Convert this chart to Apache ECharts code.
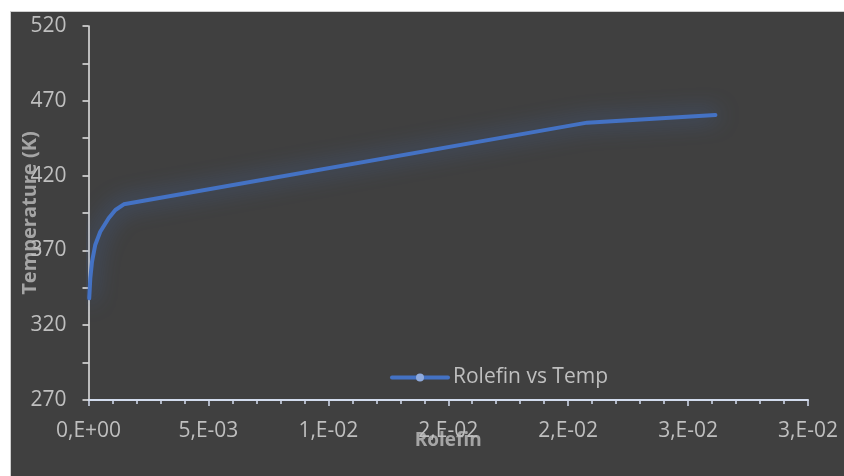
<!DOCTYPE html>
<html>
<head>
<meta charset="utf-8">
<script src="https://cdn.jsdelivr.net/npm/echarts@6/dist/echarts.min.js"></script>
<style>
  html, body { margin: 0; padding: 0; background: #ffffff; }
  body { width: 844px; height: 476px; overflow: hidden; position: relative; }
  #frame {
    position: absolute; left: 10px; top: 11px;
    width: 834px; height: 465px;
    border-top: 1px solid #cfcfcf; border-left: 1px solid #cfcfcf;
    background: #404040;
  }
  #chart { position: absolute; left: 0; top: 0; width: 834px; height: 465px; }
</style>
</head>
<body>
<div id="frame"><div id="chart"></div></div>
<script>
// Olefin fraction against temperature profile
const rolefin = [0.00003, 0.000075, 0.000146, 0.00028, 0.00049, 0.00084, 0.00112, 0.00147, 0.02079, 0.02614];
const temp    = [338.0,   351.3,    362.4,    373.6,   382.5,   391.5,   397.0,   400.8,   455.4,   460.5];
const xTickLabels = ['0,E+00', '5,E-03', '1,E-02', '2,E-02', '2,E-02', '3,E-02', '3,E-02'];
const seriesName = 'Rolefin vs Temp';

const points = rolefin.map((x, i) => [x, temp[i]]);
const labelColor = '#bfbfbf';
const titleColor = '#a5a5a5';
const fontFamily = '"Open Sans", "Noto Sans", sans-serif';

const chart = echarts.init(document.getElementById('chart'));
chart.setOption({
  backgroundColor: '#404040',
  animation: false,
  grid: { left: 77.5, top: 14, width: 719.5, height: 374, containLabel: false, outerBoundsMode: 'none' },
  legend: {
    data: [seriesName],
    left: 379, top: 355,
    padding: 0,
    itemWidth: 56, itemHeight: 10,
    textStyle: { color: labelColor, fontSize: 21, fontFamily: fontFamily },
    itemStyle: { color: '#8faadc', borderWidth: 0 },
    lineStyle: { color: '#4472c4', width: 4, shadowBlur: 0 }
  },
  xAxis: {
    type: 'value',
    min: 0, max: 0.03, interval: 0.005,
    name: 'Rolefin',
    nameLocation: 'middle',
    nameGap: 31,
    nameMoveOverlap: false,
    nameTextStyle: { color: titleColor, fontSize: 19, fontWeight: 'bold', fontFamily: fontFamily },
    axisLine: { show: true, onZero: false, lineStyle: { color: '#d3dcee', width: 2 } },
    axisTick: { show: true, inside: false, length: 6, lineStyle: { color: '#d3dcee', width: 1.5 } },
    minorTick: { show: true, splitNumber: 5, length: 4, lineStyle: { color: '#d3dcee', width: 1.5 } },
    splitLine: { show: false },
    axisLabel: {
      color: labelColor, fontSize: 21, fontFamily: fontFamily, margin: 21,
      formatter: v => xTickLabels[Math.round(v / 0.005)] || ''
    }
  },
  yAxis: {
    type: 'value',
    min: 270, max: 520, interval: 50,
    name: 'Temperature (K)',
    nameLocation: 'middle',
    nameRotate: 90,
    nameGap: 48,
    nameMoveOverlap: false,
    nameTextStyle: { color: titleColor, fontSize: 20, fontWeight: 'bold', fontFamily: fontFamily },
    axisLine: { show: true, lineStyle: { color: '#e6e6e6', width: 1.5 } },
    axisTick: { show: true, inside: false, length: 6, lineStyle: { color: '#e6e6e6', width: 1.5 } },
    minorTick: { show: true, splitNumber: 2, length: 6, lineStyle: { color: '#e6e6e6', width: 1.5 } },
    splitLine: { show: false },
    axisLabel: { color: labelColor, fontSize: 21, fontFamily: fontFamily, margin: 22 }
  },
  series: [{
    name: seriesName,
    type: 'line',
    data: points,
    symbol: 'circle',
    symbolSize: 7,
    showSymbol: false,
    smooth: false,
    itemStyle: { color: '#4472c4' },
    lineStyle: {
      color: '#4472c4', width: 4, cap: 'round', join: 'round',
      shadowBlur: 22, shadowColor: 'rgba(68, 114, 196, 0.85)'
    }
  }]
});
</script>
</body>
</html>
